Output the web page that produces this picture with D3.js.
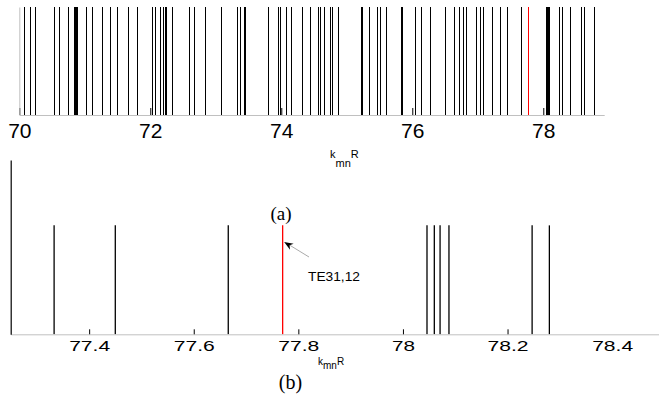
<!DOCTYPE html>
<html><head><meta charset="utf-8">
<script src="https://cdn.jsdelivr.net/npm/d3@7"></script>
<style>
html,body{margin:0;padding:0;background:#fff;}
svg{display:block;}
</style></head>
<body>
<svg id="chart" width="659" height="394"></svg>
<script>
// ---- data ----
const topModes = [70.076, 70.159, 70.244, 70.534, 70.602, 70.739, 70.833, 70.848, 70.863, 70.885,
  71.014, 71.115, 71.258, 71.385, 71.496, 71.664, 71.802, 72.031, 72.072, 72.153, 72.194, 72.22,
  72.235, 72.331, 72.584, 72.594, 72.672, 72.84, 73.075, 73.328, 73.375, 73.435, 73.45, 73.792,
  73.954, 73.975, 74.072, 74.153, 74.321, 74.443, 74.565, 74.591, 74.656, 74.744, 74.779, 74.87,
  75.221, 75.236, 75.334, 75.456, 75.511, 75.594, 75.82, 75.85, 76.046, 76.128, 76.266, 76.504,
  76.641, 76.708, 76.779, 76.824, 76.968, 77.038, 77.084, 77.221, 77.333, 77.45, 77.666, 78.046,
  78.06, 78.071, 78.088, 78.247, 78.28, 78.403, 78.576, 78.622, 78.779];
const topHighlight = [77.77];
const topTicks = [70, 72, 74, 76, 78];

const bottomModes = [77.333, 77.45, 77.666, 78.046, 78.06, 78.071, 78.088, 78.247, 78.28];
const bottomHighlight = [77.77];
const bottomTicks = [77.4, 77.6, 77.8, 78, 78.2, 78.4];
const barHeightTop = 1;
const barHeightBottom = 0.625;
const highlightLabel = "TE31,12";
const panelLabels = ["(a)", "(b)"];

// ---- drawing ----
const svg = d3.select("#chart");
const FONT = "'Liberation Sans', Arial, sans-serif";
const SERIF = "'Liberation Serif', 'Times New Roman', serif";

// top panel
const xT = d3.scaleLinear().domain([70, 78.93]).range([19.3, 604.2]);
const yT = d3.scaleLinear().domain([0, 1]).range([115, 7]);
const gT = svg.append("g");

gT.selectAll("line.bar").data(topModes).join("line")
  .attr("x1", d => Math.round(xT(d)) + 0.5).attr("x2", d => Math.round(xT(d)) + 0.5)
  .attr("y1", yT(0)).attr("y2", yT(barHeightTop))
  .attr("stroke", "#000").attr("stroke-width", 1);
gT.selectAll("line.hl").data(topHighlight).join("line")
  .attr("x1", d => Math.round(xT(d)) + 0.5).attr("x2", d => Math.round(xT(d)) + 0.5)
  .attr("y1", yT(0)).attr("y2", yT(barHeightTop))
  .attr("stroke", "#ff0000").attr("stroke-width", 1);

const axT = gT.append("g").attr("transform", `translate(0,${yT(0)})`)
  .call(d3.axisBottom(xT).tickValues(topTicks).tickFormat(d3.format("d"))
    .tickSizeInner(-7).tickSizeOuter(0).tickPadding(8));
axT.select(".domain").attr("stroke", "#c0c0c0");
axT.selectAll(".tick line").attr("stroke", "#000");
axT.selectAll(".tick text").attr("font-family", FONT).attr("font-size", 21).attr("fill", "#000");

const ayT = gT.append("g").attr("transform", `translate(${xT(70)},0)`)
  .call(d3.axisLeft(yT).ticks(0).tickSizeOuter(0));
ayT.select(".domain").attr("stroke", "#c0c0c0");

function kLabel(g, x, y, size, subSize, shift) {
  const t = g.append("text").attr("x", x).attr("y", y)
    .attr("font-family", FONT).attr("font-size", size).attr("fill", "#000");
  t.append("tspan").text("k");
  t.append("tspan").attr("font-size", subSize).attr("dy", shift).text("mn");
  t.append("tspan").attr("dy", -shift).text("R");
}
kLabel(svg, 330, 157.5, 11, 11, 9);

svg.append("text").attr("x", 281).attr("y", 220).attr("text-anchor", "middle")
  .attr("font-family", SERIF).attr("font-size", 19)
  .text(panelLabels[0]);

// bottom panel
const xB = d3.scaleLinear().domain([77.25, 78.49]).range([10.7, 659.2]);
const yB = d3.scaleLinear().domain([0, 1]).range([334.3, 160]);
const gB = svg.append("g");

gB.selectAll("line.bar").data(bottomModes).join("line")
  .attr("x1", d => xB(d)).attr("x2", d => xB(d))
  .attr("y1", yB(0)).attr("y2", yB(barHeightBottom))
  .attr("stroke", "#000").attr("stroke-width", 1.3);
gB.selectAll("line.hl").data(bottomHighlight).join("line")
  .attr("x1", d => xB(d)).attr("x2", d => xB(d))
  .attr("y1", yB(0)).attr("y2", yB(barHeightBottom))
  .attr("stroke", "#ff0000").attr("stroke-width", 1.3);

const axB = gB.append("g").attr("transform", `translate(0,${yB(0)})`)
  .call(d3.axisBottom(xB).tickValues(bottomTicks).tickFormat(d => String(d))
    .tickSizeInner(-5).tickSizeOuter(0).tickPadding(6.5));
axB.select(".domain").attr("stroke", "#c0c0c0");
axB.selectAll(".tick line").attr("stroke", "#000").attr("display", d => d > 78.3 ? "none" : null);
axB.selectAll(".tick text").attr("font-family", FONT).attr("font-size", 15).attr("fill", "#000")
  .attr("textLength", d => String(d).length > 2 ? 41 : 23).attr("lengthAdjust", "spacingAndGlyphs");

const ayB = gB.append("g").attr("transform", `translate(${xB(77.25)},0)`)
  .call(d3.axisLeft(yB).ticks(0).tickSizeOuter(0));
ayB.select(".domain").attr("stroke", "#000").attr("stroke-width", 1.2);

kLabel(svg, 318, 365, 10, 10, 4);

svg.append("text").attr("x", 290.5).attr("y", 389).attr("text-anchor", "middle")
  .attr("font-family", SERIF).attr("font-size", 20)
  .text(panelLabels[1]);

// annotation arrow
const tipX = xB(bottomHighlight[0]) + 1.5, tipY = 242;
const tailX = 309, tailY = 257;
svg.append("line").attr("x1", tailX).attr("y1", tailY).attr("x2", tipX + 4).attr("y2", tipY + 2.2)
  .attr("stroke", "#a0a0a0").attr("stroke-width", 0.9);
const ang = Math.atan2(tipY - tailY, tipX - tailX);
const L = 9, W = 3.5;
const bx = tipX - L * Math.cos(ang), by = tipY - L * Math.sin(ang);
const px = -Math.sin(ang) * W, py = Math.cos(ang) * W;
svg.append("path")
  .attr("d", `M${tipX},${tipY}L${bx + px},${by + py}L${bx + (tipX - bx) * 0.3},${by + (tipY - by) * 0.3}L${bx - px},${by - py}Z`)
  .attr("fill", "#000");

svg.append("text").attr("x", 308).attr("y", 280.5)
  .attr("font-family", FONT).attr("font-size", 12).attr("fill", "#000")
  .attr("textLength", 52).attr("lengthAdjust", "spacingAndGlyphs")
  .text(highlightLabel);
</script>
</body></html>
